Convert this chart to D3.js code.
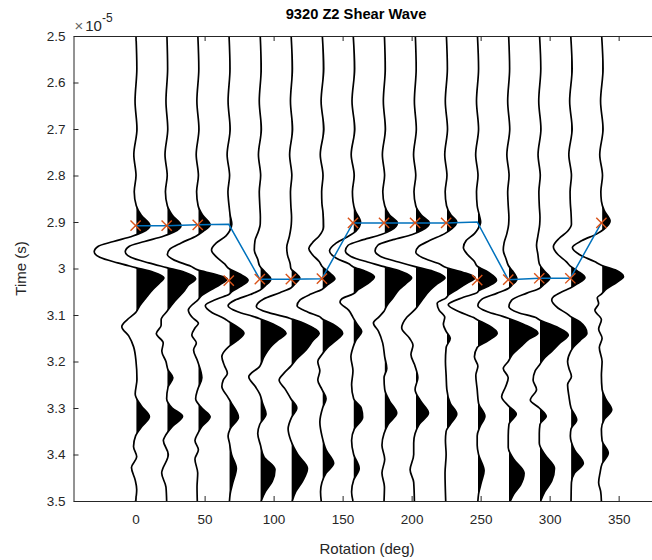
<!DOCTYPE html>
<html><head><meta charset="utf-8">
<script src="https://cdn.jsdelivr.net/npm/d3@7"></script>
<style>
body{margin:0;background:#fff}
svg{display:block}
text{font-family:"Liberation Sans",Arial,Helvetica,sans-serif}
</style>
</head><body>
<svg id="chart" width="652" height="560"></svg>
<script>
// ---------- data ----------
const rotations = [0, 22.5, 45, 67.5, 90, 112.5, 135, 157.5, 180, 202.5, 225, 247.5, 270, 292.5, 315, 337.5];
const xTicks = [0, 50, 100, 150, 200, 250, 300, 350];
const yTicks = [2.5, 2.6, 2.7, 2.8, 2.9, 3.0, 3.1, 3.2, 3.3, 3.4, 3.5];

// each trace: [time (x1e-5 s), amplitude (deg of offset)]
const trace_000 = [[2.50,0.3],[2.57,0.9],[2.64,-0.4],[2.70,1.0],[2.755,-1.3],[2.80,0.3],[2.835,-1.0],
 [2.865,0.5],[2.885,4],[2.908,10.4],[2.922,5],[2.930,-2],[2.942,-16],[2.952,-27],[2.964,-30],[2.976,-26],[2.988,-13],[2.998,0],
 [3.008,13],[3.02,20.5],[3.032,17],[3.045,12.5],[3.065,7],[3.08,3],[3.095,0],[3.11,-6],[3.125,-10],[3.145,-5],[3.168,-1.5],
 [3.2,0.3],[3.238,1],[3.27,-0.3],[3.295,4],[3.319,10],[3.34,4.5],[3.36,0],[3.383,-1.5],[3.405,0.8],[3.428,-3],[3.455,-0.3],[3.475,0.8],[3.5,0]];
const trace_022 = [[2.50,0.2],[2.57,0.7],[2.64,-0.5],[2.70,0.8],[2.755,-1.2],[2.80,0.4],[2.835,-0.9],
 [2.865,0.5],[2.885,4],[2.908,10.4],[2.922,5],[2.930,-2],[2.942,-16],[2.952,-27],[2.964,-30],[2.976,-26],[2.988,-13],[2.998,0],
 [3.008,13],[3.022,21],[3.035,16],[3.047,13],[3.07,6],[3.093,0],[3.11,-4],[3.122,-4],[3.14,-7.5],[3.16,-2.5],[3.178,-3.5],
 [3.2,-0.5],[3.218,1],[3.235,4.5],[3.255,1],[3.28,0],[3.30,4],[3.318,11.5],[3.34,4],[3.36,-1],[3.37,-2.4],[3.40,1.2],[3.44,-3.6],[3.47,-0.5],[3.5,0]];
const trace_045 = [[2.50,0.1],[2.57,0.8],[2.64,-0.6],[2.70,0.9],[2.755,-1.1],[2.80,0.5],[2.835,-0.8],
 [2.865,0.3],[2.885,3.5],[2.906,9],[2.92,4],[2.93,-1],[2.945,-12],[2.958,-20],[2.97,-22],[2.982,-17],[2.995,-5],[3.003,0],
 [3.012,12],[3.022,21.5],[3.035,16],[3.045,10],[3.058,3],[3.068,0],[3.078,-4],[3.089,-6.8],[3.105,-4],[3.118,0.5],[3.128,-2],[3.143,-4.3],
 [3.16,-1],[3.175,-3],[3.2,0],[3.235,3],[3.26,0],[3.28,-1.5],[3.30,3],[3.319,9],[3.34,3],[3.355,0],[3.37,-2],[3.39,0.5],[3.41,-2],[3.44,0],[3.47,-0.5],[3.5,-0.3]];
const trace_067 = [[2.50,0.2],[2.57,0.9],[2.64,-0.5],[2.70,1.0],[2.755,-1.2],[2.80,0.6],[2.835,-0.6],
 [2.865,0.2],[2.885,1],[2.905,2.2],[2.92,0.5],[2.93,-2],[2.945,-9],[2.96,-12.5],[2.975,-9],[2.99,-3],[3.0,0],
 [3.012,8],[3.025,14],[3.038,9],[3.05,2],[3.056,0],[3.065,-8],[3.08,-17],[3.095,-12],[3.108,-3],[3.114,0],[3.125,6],[3.139,11],[3.155,6],[3.168,0],
 [3.19,-5],[3.21,-3],[3.225,-1],[3.24,-4],[3.254,-5],[3.275,-1],[3.29,2],[3.32,7],[3.345,1],[3.36,-0.5],[3.375,0.5],[3.40,2],[3.43,5.5],[3.46,3],[3.485,1],[3.5,0.5]];
const trace_090 = [[2.50,0.3],[2.57,1.0],[2.64,-0.4],[2.70,1.1],[2.755,-1.0],[2.80,0.6],[2.835,-0.4],
 [2.865,0],[2.89,0.4],[2.905,0.3],[2.92,-1],[2.94,-3.5],[2.96,-4],[2.98,-1.5],[2.995,0],[3.008,4],[3.023,8],[3.037,4],[3.047,0],
 [3.056,-7],[3.068,-18],[3.08,-23],[3.093,-16],[3.103,-5],[3.108,0],[3.12,10],[3.139,19],[3.152,14],[3.165,9],[3.19,3],[3.21,0],
 [3.233,-8],[3.255,-3],[3.27,0],[3.29,2],[3.313,4.5],[3.335,0],[3.355,-1.5],[3.38,0.5],[3.405,3],[3.432,11],[3.458,9],[3.48,4],[3.5,1]];
const trace_112 = [[2.50,0.2],[2.57,1.1],[2.64,-0.3],[2.70,1.2],[2.755,-0.9],[2.80,0.7],[2.835,-0.3],
 [2.865,0],[2.89,0.5],[2.905,0.3],[2.93,-1],[2.955,-3],[2.97,-2.5],[2.99,-0.5],[3.0,0],[3.01,3.5],[3.02,6.5],[3.033,3],[3.042,0],
 [3.052,-8],[3.066,-20],[3.082,-25],[3.095,-16],[3.104,-4],[3.108,0],[3.12,11],[3.139,20.5],[3.155,16],[3.175,11],[3.195,4],[3.21,0],
 [3.225,-5],[3.24,-8.5],[3.26,-4],[3.28,0],[3.30,4.3],[3.32,0.5],[3.345,-2],[3.37,0],[3.40,5],[3.43,12],[3.457,8.5],[3.48,3.5],[3.5,1]];
const trace_135 = [[2.50,0.3],[2.57,1.3],[2.64,-0.6],[2.70,1.4],[2.755,-1.2],[2.80,0.8],[2.835,-0.2],
 [2.86,0],[2.88,0.8],[2.91,1.2],[2.93,-2],[2.945,-7],[2.957,-9.5],[2.97,-7],[2.985,-2],[2.995,0],[3.008,5],[3.022,9.4],[3.035,4],[3.045,0],
 [3.055,-8],[3.068,-16],[3.08,-18],[3.094,-10],[3.105,-1],[3.108,0],[3.12,8],[3.139,15],[3.155,10],[3.17,4],[3.185,0],
 [3.2,-3],[3.22,-1.5],[3.24,-3],[3.26,0],[3.28,3],[3.30,0.5],[3.33,-1.5],[3.36,0],[3.39,3],[3.419,8.5],[3.44,3],[3.46,0],[3.48,-1],[3.5,-0.5]];
const trace_157 = [[2.50,0.2],[2.57,1.2],[2.64,-0.7],[2.70,1.3],[2.755,-1.3],[2.80,0.9],[2.835,-0.4],
 [2.855,0],[2.875,1.5],[2.90,5.5],[2.92,2],[2.93,-3],[2.945,-12],[2.962,-17],[2.978,-12],[2.99,-3],[2.996,0],
 [3.006,9],[3.018,15.5],[3.032,11],[3.045,4],[3.055,0],[3.065,-8],[3.072,-9.4],[3.09,-3],[3.105,0],[3.12,3],[3.135,6.3],[3.155,2],[3.17,0],
 [3.19,-1.5],[3.22,0],[3.25,-1],[3.28,0.5],[3.30,6],[3.32,7],[3.345,1],[3.37,-1],[3.40,0.5],[3.43,4.5],[3.455,0.5],[3.48,-1],[3.5,0]];
const trace_180 = [[2.50,0.3],[2.57,0.9],[2.64,-0.5],[2.70,1.0],[2.755,-1.2],[2.80,0.4],[2.835,-0.9],
 [2.865,0.5],[2.885,4],[2.902,9.7],[2.918,5],[2.927,-2],[2.938,-15],[2.95,-26],[2.962,-28],[2.974,-24],[2.986,-12],[2.996,0],
 [3.006,12],[3.02,20],[3.032,16],[3.045,11],[3.065,6],[3.08,2],[3.092,0],[3.105,-4],[3.117,-7.7],[3.135,-4],[3.16,-1],
 [3.19,0.5],[3.215,2],[3.235,0],[3.26,0.5],[3.285,4],[3.311,9.2],[3.335,3],[3.355,0],[3.38,-1.5],[3.41,0.5],[3.44,-1.5],[3.47,0.3],[3.5,0]];
const trace_202 = [[2.50,0.2],[2.57,0.8],[2.64,-0.5],[2.70,0.9],[2.755,-1.1],[2.80,0.5],[2.835,-0.8],
 [2.865,0.5],[2.885,4.5],[2.902,10.4],[2.918,5],[2.927,-2],[2.938,-16],[2.95,-27],[2.962,-29],[2.974,-25],[2.986,-12],[2.996,0],
 [3.006,13],[3.02,21.7],[3.033,16],[3.046,11],[3.068,5],[3.088,0],[3.105,-6],[3.128,-9.7],[3.15,-4],[3.165,-1.5],[3.185,-3],
 [3.21,0],[3.235,2],[3.26,0],[3.285,4],[3.311,9.7],[3.335,3],[3.355,0],[3.375,-1],[3.40,-1],[3.433,-3.6],[3.46,-1],[3.5,-0.5]];
const trace_225 = [[2.50,0.2],[2.57,0.9],[2.64,-0.6],[2.70,1.0],[2.755,-1.0],[2.80,0.6],[2.835,-0.7],
 [2.865,0.3],[2.885,3.5],[2.90,7.7],[2.915,4],[2.925,-1],[2.94,-12],[2.953,-20],[2.965,-22],[2.977,-17],[2.99,-5],[2.998,0],
 [3.008,12],[3.02,21],[3.032,15],[3.045,8],[3.056,2],[3.063,0],[3.075,-6.5],[3.09,-5],[3.105,-1],[3.12,-2],[3.135,0],[3.15,3],[3.17,0],
 [3.2,-0.5],[3.23,0],[3.26,0.5],[3.29,3],[3.313,7.7],[3.335,3],[3.35,0],[3.37,-0.5],[3.40,0],[3.44,-0.8],[3.5,-0.3]];
const trace_247 = [[2.50,0.2],[2.57,1.0],[2.64,-0.5],[2.70,1.0],[2.755,-1.1],[2.80,0.6],[2.835,-0.5],
 [2.865,0],[2.885,1.5],[2.90,2.5],[2.915,0.5],[2.925,-2],[2.94,-8],[2.955,-10],[2.97,-7],[2.985,-2],[2.995,0],
 [3.008,8],[3.025,14],[3.038,8],[3.048,1],[3.052,0],[3.062,-10],[3.078,-21],[3.093,-13],[3.105,-3],[3.11,0],[3.122,8],[3.139,14.5],[3.155,8],[3.17,0],
 [3.19,-2],[3.21,0.5],[3.23,-1],[3.26,0],[3.29,1],[3.318,5.6],[3.34,2],[3.36,0],[3.38,0],[3.40,1],[3.435,5],[3.46,3],[3.485,1],[3.5,0.5]];
const trace_270 = [[2.50,0.3],[2.57,1.0],[2.64,-0.4],[2.70,1.1],[2.755,-1.0],[2.80,0.6],[2.835,-0.4],
 [2.865,0],[2.89,0.5],[2.905,0.3],[2.925,-1],[2.945,-3],[2.96,-3.6],[2.98,-1.5],[2.993,0],[3.005,3],[3.023,6.3],[3.035,3],[3.043,0],
 [3.053,-8],[3.066,-19],[3.08,-22],[3.093,-15],[3.103,-4],[3.107,0],[3.12,11],[3.139,21.5],[3.152,15],[3.168,9],[3.185,3],[3.2,0],
 [3.215,-3.6],[3.235,0],[3.255,-2],[3.276,-4.8],[3.295,0],[3.313,5.8],[3.335,0.5],[3.36,0],[3.385,0],[3.41,4],[3.44,11.5],[3.465,9],[3.485,4],[3.5,1.5]];
const trace_292 = [[2.50,0.2],[2.57,1.1],[2.64,-0.4],[2.70,1.2],[2.755,-0.9],[2.80,0.7],[2.835,-0.3],
 [2.865,0],[2.89,0.5],[2.905,0.3],[2.93,-1],[2.95,-2],[2.97,-1],[2.99,0],[3.005,3.5],[3.02,7.8],[3.035,3],[3.043,0],
 [3.053,-9],[3.068,-20],[3.082,-22],[3.095,-15],[3.105,-3],[3.11,0],[3.125,12],[3.143,21],[3.16,15],[3.178,9],[3.195,3],[3.208,0],
 [3.22,-3],[3.24,-4.5],[3.26,-2],[3.283,-6.5],[3.30,0],[3.318,5],[3.335,0.5],[3.355,0],[3.375,0],[3.40,4],[3.43,11],[3.457,9],[3.48,4],[3.5,1]];
const trace_315 = [[2.50,0.3],[2.57,1.3],[2.64,-0.5],[2.70,1.3],[2.755,-1.1],[2.80,0.8],[2.835,-0.2],
 [2.86,0],[2.88,0.5],[2.905,0.8],[2.92,-2],[2.935,-8],[2.953,-12.3],[2.97,-9],[2.985,-3],[2.995,0],[3.005,5],[3.02,10.6],[3.033,5],[3.042,0],
 [3.05,-6],[3.06,-12],[3.068,-13.5],[3.085,-9],[3.098,-2],[3.103,0],[3.115,7],[3.139,12],[3.155,7],[3.17,2],[3.18,0],
 [3.2,-2],[3.215,-1],[3.232,0.8],[3.25,-2],[3.275,-1],[3.30,0.5],[3.326,4.6],[3.345,0.5],[3.36,0],[3.39,3],[3.419,9.4],[3.44,3],[3.46,0.8],[3.48,0.6],[3.5,0.5]];
const trace_337 = [[2.50,0.2],[2.57,1.2],[2.64,-0.6],[2.70,1.2],[2.755,-1.2],[2.80,0.8],[2.835,-0.4],
 [2.855,0],[2.875,2],[2.898,6.3],[2.915,2],[2.925,-3],[2.94,-14],[2.955,-21],[2.97,-16],[2.985,-5],[2.993,0],
 [3.003,10],[3.018,16],[3.03,11],[3.043,4],[3.055,0],[3.063,-3],[3.075,-2],[3.09,-4.7],[3.11,0],[3.13,-2],[3.15,0.5],[3.17,-1.5],
 [3.2,0.5],[3.23,0],[3.26,0.5],[3.28,3],[3.304,7.5],[3.325,2],[3.345,0],[3.37,0.5],[3.397,5],[3.42,0.5],[3.44,-1],[3.46,-2],[3.48,-0.5],[3.5,0]];

const traces = [trace_000, trace_022, trace_045, trace_067, trace_090, trace_112, trace_135, trace_157,
                trace_180, trace_202, trace_225, trace_247, trace_270, trace_292, trace_315, trace_337];

// picked arrival times (orange x) and connected pick line (blue)
const pickTimes = [2.908, 2.908, 2.906, 3.026, 3.023, 3.023, 3.022, 2.902, 2.902, 2.902, 2.902, 3.025, 3.024, 3.021, 3.021, 2.902];
const lineTimes = [2.908, 2.908, 2.906, 2.905, 3.023, 3.023, 3.022, 2.902, 2.902, 2.902, 2.902, 2.900, 3.024, 3.021, 3.021, 2.902];

// ---------- layout ----------
const svg = d3.select("#chart");
const pL = 73.5, pT = 36, pB = 501, pR = 663.5;
const x = d3.scaleLinear().domain([-45, 382.5]).range([pL, pR]);
const y = d3.scaleLinear().domain([2.5, 3.5]).range([pT, pB]);
const axisColor = "#262626";

const defs = svg.append("defs");
defs.append("clipPath").attr("id", "plotclip")
  .append("rect").attr("x", pL).attr("y", pT).attr("width", pR - pL).attr("height", pB - pT);

const plot = svg.append("g").attr("clip-path", "url(#plotclip)");

traces.forEach((tr, i) => {
  const base = rotations[i];
  defs.append("clipPath").attr("id", "pos" + i)
    .append("rect").attr("x", x(base) + 0.8).attr("y", pT).attr("width", 120).attr("height", pB - pT);
});

const fillG = plot.append("g");
const lineG = plot.append("g");
traces.forEach((tr, i) => {
  const base = rotations[i];
  const area = d3.area()
    .y(d => y(d[0]))
    .x0(x(base) - 1)
    .x1(d => x(base + d[1]))
    .curve(d3.curveMonotoneY);
  fillG.append("path").attr("d", area(tr)).attr("fill", "#000")
    .attr("clip-path", `url(#pos${i})`);
  const line = d3.line()
    .y(d => y(d[0]))
    .x(d => x(base + d[1]))
    .curve(d3.curveMonotoneY);
  lineG.append("path").attr("d", line(tr)).attr("fill", "none")
    .attr("stroke", "#000").attr("stroke-width", 1.7);
});

// pick line
const pickLine = d3.line().x((d, i) => x(rotations[i])).y(d => y(d));
plot.append("path").attr("d", pickLine(lineTimes)).attr("fill", "none")
  .attr("stroke", "#0072BD").attr("stroke-width", 1.5);

// x markers
const sym = d3.symbol().type(d3.symbolX).size(70);
plot.selectAll(".pk").data(pickTimes).enter().append("path")
  .attr("transform", (d, i) => `translate(${x(rotations[i])},${y(d)})`)
  .attr("d", sym()).attr("fill", "none").attr("stroke", "#D95319").attr("stroke-width", 1.4);

// ---------- axes ----------
const fs = 13.5;
const gx = svg.append("g").attr("transform", `translate(0,${pB})`)
  .call(d3.axisBottom(x).tickValues(xTicks).tickSizeInner(-5).tickSizeOuter(0).tickPadding(13).tickFormat(d3.format("d")));
const gxt = svg.append("g").attr("transform", `translate(0,${pT})`)
  .call(d3.axisTop(x).tickValues(xTicks).tickSizeInner(-5).tickSizeOuter(0).tickFormat(""));
const gy = svg.append("g").attr("transform", `translate(${pL},0)`)
  .call(d3.axisLeft(y).tickValues(yTicks).tickSizeInner(-5).tickSizeOuter(0).tickPadding(8).tickFormat(d => d === 3 ? "3" : d3.format(".1f")(d)));
[gx, gxt, gy].forEach(g => {
  g.select(".domain").attr("stroke", axisColor).attr("stroke-width", 1);
  g.selectAll(".tick line").attr("stroke", axisColor).attr("stroke-width", 1);
  g.selectAll(".tick text").attr("fill", axisColor).style("font-size", fs + "px")
    .style("font-family", '"Liberation Sans", Arial, sans-serif');
});

// exponent label
const ex = svg.append("text").attr("x", pL + 1).attr("y", 31).attr("fill", axisColor)
  .style("font-size", "15px");
ex.append("tspan").style("fill", "#666").text("\u00D7");
ex.append("tspan").attr("dx", 2).text("10");
ex.append("tspan").attr("dy", -9).style("font-size", "12px").text("-5");

// title
svg.append("text").attr("x", 356).attr("y", 19).attr("text-anchor", "middle")
  .style("font-size", "14.7px").style("font-weight", "bold").attr("fill", "#000")
  .text("9320 Z2 Shear Wave");

// axis labels
svg.append("text").attr("x", 367).attr("y", 554).attr("text-anchor", "middle")
  .style("font-size", "15px").attr("fill", axisColor).text("Rotation (deg)");
svg.append("text").attr("transform", `translate(26,${(pT + pB) / 2}) rotate(-90)`)
  .attr("text-anchor", "middle").style("font-size", "15px").attr("fill", axisColor).text("Time (s)");
</script>
</body></html>
